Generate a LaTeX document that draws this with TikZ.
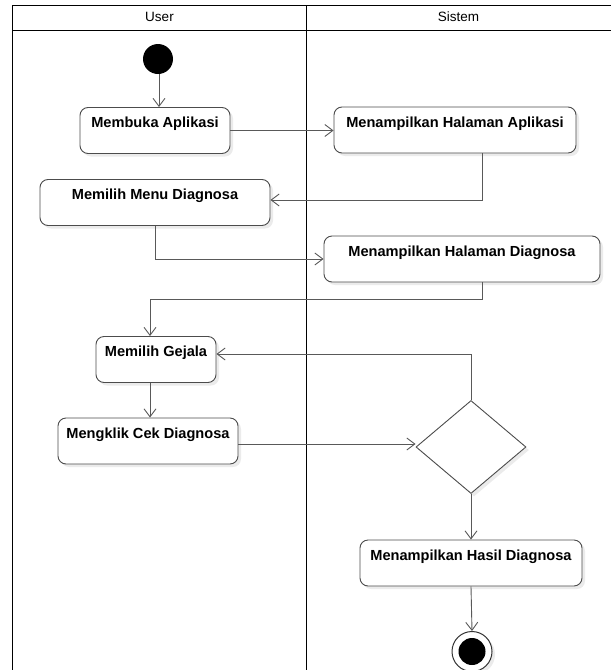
\documentclass[tikz,border=0pt]{standalone}
\usepackage{fontspec}
\setmainfont{Liberation Sans}
\usetikzlibrary{arrows.meta,shapes.geometric,shadows}
\begin{document}
\begin{tikzpicture}[x=1pt,y=-1pt,
  lane/.style={line width=1.5pt,black},
  act/.style={draw=black!70,line width=0.9pt,rounded corners=8pt,fill=white,
    font=\fontsize{14.6}{16}\selectfont\bfseries,inner sep=0pt,
    text height=11pt,text depth=17pt,minimum height=46pt,
    general shadow={fill=black!8,shadow xshift=3pt,shadow yshift=-3pt}},
  arr/.style={draw=black!65,line width=0.9pt,-{Straight Barb[length=8pt,width=12pt,line width=0.9pt]}},
  hdr/.style={font=\fontsize{13.5}{15}\selectfont}]
\useasboundingbox (0,0) rectangle (611,670);
% swimlanes
\draw[lane] (611,5.7) -- (12.5,5.7) -- (12.5,670);
\draw[lane] (12.5,30.7) -- (611,30.7);
\draw[lane] (306.5,5.7) -- (306.5,670);
\node[hdr] (hu) at (159.5,17) {User};
\node[hdr] (hs) at (458.5,17) {Sistem};
% start
\node[circle,fill=black,minimum size=30pt,inner sep=0pt] (start) at (158,59) {};
% activities
\node[act,minimum width=150pt] (a1) at (155,130.5) {Membuka Aplikasi};
\node[act,minimum width=242pt] (a2) at (455,130) {Menampilkan Halaman Aplikasi};
\node[act,minimum width=230pt] (a3) at (155,202.5) {Memilih Menu Diagnosa};
\node[act,minimum width=276pt] (a4) at (462,259) {Menampilkan Halaman Diagnosa};
\node[act,minimum width=120pt] (a5) at (156,359.5) {Memilih Gejala};
\node[act,minimum width=180pt] (a6) at (148,441) {Mengklik Cek Diagnosa};
\node[diamond,draw=black!70,line width=0.9pt,fill=white,minimum width=110pt,minimum height=93pt,
  shape aspect=1.18,inner sep=0pt,
  general shadow={fill=black!8,shadow xshift=3pt,shadow yshift=-3pt}] (dec) at (471,447) {};
\node[act,minimum width=222pt] (a7) at (471,563) {Menampilkan Hasil Diagnosa};
% end
\node[circle,draw=black!80,line width=1pt,fill=white,minimum size=40pt,inner sep=0pt,
  general shadow={fill=black!8,shadow xshift=3pt,shadow yshift=-3pt}] (end) at (472,651.5) {};
\node[circle,fill=black,minimum size=27pt,inner sep=0pt] (endin) at (end.center) {};
% connectors
\draw[arr] (start.south -| a1.north) ++(4,0) coordinate (s0) -- (s0 |- a1.north);
\draw[arr] (a1.east) -- (a1.east -| a2.west);
\draw[arr] ([xshift=27pt]a2.south) |- ([yshift=2.5pt]a3.east);
\draw[arr] (a3.south) |- (a4.west);
\draw[arr] ([xshift=20pt]a4.south) |- (150,299) -- (150,0 |- a5.north);
\draw[arr] ([xshift=-6pt]a5.south) -- ([xshift=2pt]a6.north);
\draw[arr] ([yshift=-3pt]a6.east) -- ([yshift=-3pt]a6.east -| dec.west);
\draw[arr] (dec.north) |- ([yshift=5.5pt]a5.east);
\draw[arr] (dec.south) -- (a7.north);
\draw[arr] (a7.south) -- (end.north);
\end{tikzpicture}
\end{document}
